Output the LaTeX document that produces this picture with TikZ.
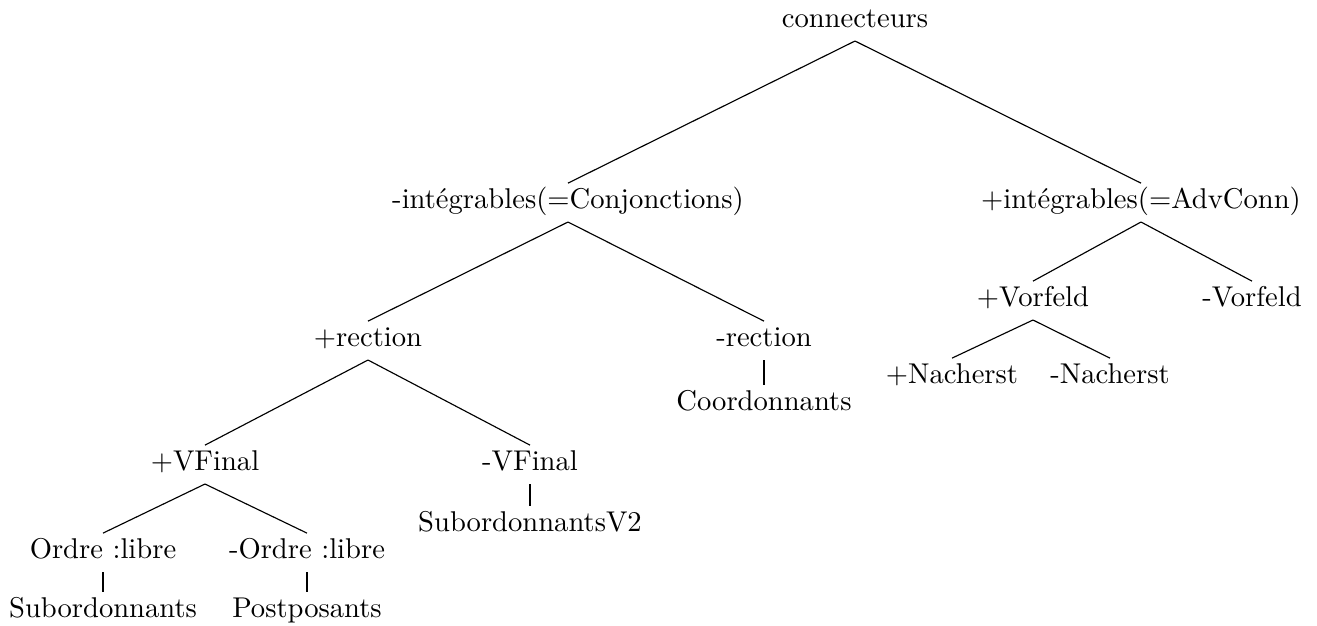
\documentclass[tikz,border=0pt]{standalone}
\begin{document}
\begin{tikzpicture}[x=0.3497pt, y=-0.3497pt,
  lbl/.style={anchor=base, inner sep=0pt, text height=8.5pt, text depth=4.7pt, font=\normalsize},
  edge/.style={draw, line width=0.4pt}]
\useasboundingbox (0,0) rectangle (1317,625);
\node[lbl] (root) at (855,27) {connecteurs};
\node[lbl] (mi) at (568,208) {-intégrables(=Conjonctions)};
\node[lbl] (pi) at (1141,208) {+intégrables(=AdvConn)};
\node[lbl] (pr) at (368,346) {+rection};
\node[lbl] (mr) at (764,346) {-rection};
\node[lbl] (coord) at (764,410) {Coordonnants};
\node[lbl] (pvf) at (205,470) {+VFinal};
\node[lbl] (mvf) at (530,470) {-VFinal};
\node[lbl] (sv2) at (530,531) {SubordonnantsV2};
\node[lbl] (po) at (103,558) {Ordre :libre};
\node[lbl] (mo) at (307,558) {-Ordre :libre};
\node[lbl] (sub) at (103,617) {Subordonnants};
\node[lbl] (post) at (307,617) {Postposants};
\node[lbl] (pv) at (1033,306) {+Vorfeld};
\node[lbl] (mv) at (1252,306) {-Vorfeld};
\node[lbl] (pn) at (952,383) {+Nacherst};
\node[lbl] (mn) at (1110,383) {-Nacherst};
\draw[edge] (root.south) -- (mi.north);
\draw[edge] (root.south) -- (pi.north);
\draw[edge] (mi.south) -- (pr.north);
\draw[edge] (mi.south) -- (mr.north);
\draw[edge] (mr.south) -- (coord.north);
\draw[edge] (pr.south) -- (pvf.north);
\draw[edge] (pr.south) -- (mvf.north);
\draw[edge] (mvf.south) -- (sv2.north);
\draw[edge] (pvf.south) -- (po.north);
\draw[edge] (pvf.south) -- (mo.north);
\draw[edge] (po.south) -- (sub.north);
\draw[edge] (mo.south) -- (post.north);
\draw[edge] (pi.south) -- (pv.north);
\draw[edge] (pi.south) -- (mv.north);
\draw[edge] (pv.south) -- (pn.north);
\draw[edge] (pv.south) -- (mn.north);
\end{tikzpicture}
\end{document}
